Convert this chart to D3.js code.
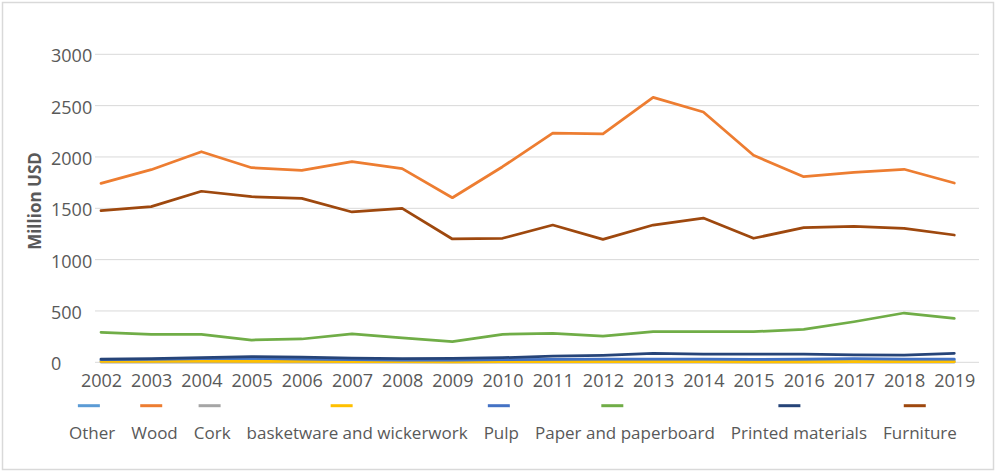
<!DOCTYPE html>
<html>
<head>
<meta charset="utf-8">
<script src="https://cdn.jsdelivr.net/npm/d3@7"></script>
<style>
  html, body { margin: 0; padding: 0; background: #fff; }
  svg { display: block; }
  text { font-family: "Open Sans", sans-serif; fill: #595959; }
</style>
</head>
<body>
<svg id="chart" width="1000" height="472"></svg>
<script>
// Export values, million USD, 2002-2019
const years = ["2002","2003","2004","2005","2006","2007","2008","2009","2010",
               "2011","2012","2013","2014","2015","2016","2017","2018","2019"];
const yTicks = [0, 500, 1000, 1500, 2000, 2500, 3000];

const other       = [15, 18, 20, 22, 18, 16, 15, 14, 16, 18, 20, 20, 20, 19, 20, 22, 20, 20];
const wood        = [1743, 1876, 2051, 1895, 1870, 1954, 1886, 1603, 1905, 2233, 2224, 2581, 2438, 2016, 1808, 1851, 1880, 1746];
const cork        = [2, 2, 2, 2, 2, 2, 2, 2, 2, 2, 2, 2, 2, 2, 2, 2, 2, 2];
const basketware  = [8, 10, 12, 10, 8, 7, 6, 5, 6, 6, 6, 6, 6, 5, 5, 6, 6, 6];
const pulp        = [25, 28, 35, 38, 30, 25, 22, 20, 25, 28, 30, 30, 30, 28, 32, 35, 32, 32];
const paper       = [292, 273, 273, 217, 227, 276, 237, 201, 273, 282, 256, 298, 298, 298, 321, 395, 480, 428];
const printed     = [32, 36, 46, 55, 50, 40, 35, 38, 45, 60, 68, 86, 80, 80, 80, 72, 70, 88];
const furniture   = [1477, 1516, 1666, 1613, 1597, 1464, 1500, 1201, 1208, 1337, 1198, 1337, 1405, 1208, 1311, 1325, 1305, 1240];

const seriesNames  = ["Other", "Wood", "Cork", "basketware and wickerwork", "Pulp",
                      "Paper and paperboard", "Printed materials", "Furniture"];
const seriesValues = [other, wood, cork, basketware, pulp, paper, printed, furniture];
const seriesColors = ["#5B9BD5", "#ED7D31", "#A5A5A5", "#FFC000", "#4472C4",
                      "#70AD47", "#264478", "#9E480E"];

const series = seriesNames.map((name, i) => ({
  name, color: seriesColors[i],
  values: years.map((y, j) => ({ year: y, value: seriesValues[i][j] }))
}));

const svg = d3.select("#chart");

// outer frame
svg.append("rect")
  .attr("x", 2.5).attr("y", 2.5).attr("width", 991).attr("height", 467)
  .attr("fill", "#fff").attr("stroke", "#D9D9D9").attr("stroke-width", 1.5);

const gridLeft = 95, gridRight = 979;
const x = d3.scalePoint().domain(years).range([101, 954.3]);
const y = d3.scaleLinear().domain([0, 3000]).range([362.3, 54.3]);

// horizontal gridlines
svg.append("g").selectAll("line").data(yTicks).join("line")
  .attr("x1", gridLeft).attr("x2", gridRight)
  .attr("y1", d => y(d)).attr("y2", d => y(d))
  .attr("stroke", "#D9D9D9").attr("stroke-width", 1);

// y axis labels, left aligned in their column
const yAxis = d3.axisLeft(y).tickValues(yTicks).tickSize(0).tickPadding(0).tickFormat(d3.format("d"));
const gy = svg.append("g").attr("transform", "translate(51,0)").call(yAxis);
gy.select(".domain").remove();
gy.selectAll("text")
  .attr("font-family", "Open Sans, sans-serif").attr("font-size", 18)
  .attr("text-anchor", "start")
  .attr("fill", "#595959").attr("dy", "0.42em");

// x axis labels
const xAxis = d3.axisBottom(x).tickSize(0).tickPadding(0);
const gx = svg.append("g").attr("transform", "translate(0,374)").call(xAxis);
gx.select(".domain").remove();
gx.selectAll("text")
  .attr("font-family", "Open Sans, sans-serif").attr("font-size", 18)
  .attr("fill", "#595959").attr("dy", "0.71em");

// y axis title
svg.append("text")
  .attr("transform", "translate(41,201) rotate(-90)")
  .attr("text-anchor", "middle")
  .attr("font-size", 17).attr("font-weight", "bold")
  .text("Million USD");

// series lines
const line = d3.line().x(d => x(d.year)).y(d => y(d.value));
svg.append("g").selectAll("path").data(series).join("path")
  .attr("d", d => line(d.values))
  .attr("fill", "none")
  .attr("stroke", d => d.color)
  .attr("stroke-width", 2.75)
  .attr("stroke-linejoin", "round")
  .attr("stroke-linecap", "round");

// legend: swatches above labels
const legend = svg.append("g");
let cursor = 69;
series.forEach(s => {
  const t = legend.append("text")
    .attr("x", cursor).attr("y", 439)
    .attr("font-size", 17)
    .text(s.name);
  const w = t.node().getComputedTextLength();
  const cx = cursor + w * 0.43;
  legend.append("line")
    .attr("x1", cx - 11).attr("x2", cx + 11)
    .attr("y1", 405.7).attr("y2", 405.7)
    .attr("stroke", s.color).attr("stroke-width", 3);
  cursor += w + 16;
});
</script>
</body>
</html>
